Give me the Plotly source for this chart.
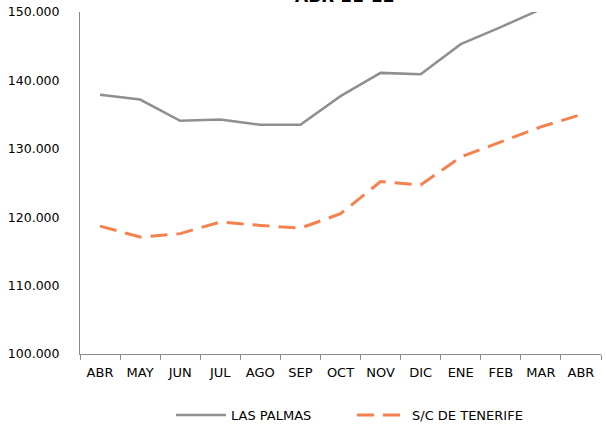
import plotly.graph_objects as go

# monthly values, ABR 2011 -> ABR 2012
months = ["ABR", "MAY", "JUN", "JUL", "AGO", "SEP", "OCT", "NOV", "DIC", "ENE", "FEB", "MAR", "ABR"]
categories = [f"{m}_{i}" for i, m in enumerate(months)]  # unique keys, the two ABR would merge otherwise

las_palmas = [137900, 137200, 134100, 134300, 133500, 133500, 137700, 141100, 140900, 145300, 147800, 150400, 152600]
sc_tenerife = [118700, 117100, 117600, 119300, 118800, 118400, 120500, 125200, 124700, 128800, 131000, 133200, 135000]

y_ticks = [100000, 110000, 120000, 130000, 140000, 150000]

GRAY = "#8f8f8f"
ORANGE = "#f5814f"
AXIS = "#8a8a8a"
FONT = "DejaVu Sans, Verdana, sans-serif"

PLOT_L, PLOT_R = 80, 601

fig = go.Figure()

fig.add_trace(
    go.Scatter(
        x=categories,
        y=las_palmas,
        mode="lines",
        name="LAS PALMAS",
        line=dict(color=GRAY, width=2.5),
    )
)
fig.add_trace(
    go.Scatter(
        x=categories,
        y=sc_tenerife,
        mode="lines",
        name="S/C DE TENERIFE",
        line=dict(color=ORANGE, width=3, dash="17px,9px"),
    )
)

# title is mostly cut off at the top of the image
fig.add_annotation(
    text="<b>ABR 11-12</b>",
    x=(345 - PLOT_L) / (PLOT_R - PLOT_L),
    xref="paper",
    y=1.012,
    yref="paper",
    xanchor="center",
    yanchor="bottom",
    showarrow=False,
    font=dict(size=17, color="#000000", family=FONT),
)

fig.update_layout(
    width=606,
    height=427,
    margin=dict(l=PLOT_L, r=606 - PLOT_R, t=12, b=73),
    paper_bgcolor="white",
    plot_bgcolor="white",
    separators=",.",
    font=dict(family=FONT, size=13, color="#000000"),
    showlegend=True,
    legend=dict(
        orientation="h",
        x=(171 - PLOT_L) / (PLOT_R - PLOT_L),
        xanchor="left",
        yref="container",
        y=(427 - 415) / 427,
        yanchor="middle",
        font=dict(size=13, family=FONT),
        entrywidth=116,
        itemwidth=50,
        bgcolor="rgba(0,0,0,0)",
    ),
)

fig.update_xaxes(
    automargin=False,
    tickmode="array",
    tickvals=categories,
    ticktext=months,
    tickson="boundaries",
    ticks="outside",
    ticklen=5,
    tickcolor=AXIS,
    ticklabelstandoff=6,
    showline=True,
    linecolor=AXIS,
    linewidth=1,
    showgrid=False,
    zeroline=False,
    range=[-0.5, 12.5],
)
fig.update_yaxes(
    automargin=False,
    range=[100000, 150000],
    tickvals=y_ticks,
    tickformat=",.0f",
    tickfont=dict(size=12.5),
    showline=True,
    linecolor=AXIS,
    linewidth=1,
    showgrid=False,
    zeroline=False,
    ticks="",
    ticklabelstandoff=17,
)

# the page's default body margin would push the chart 8px right and down
fig.write_html(
    "out.html",
    config={"displayModeBar": False},
    post_script="document.body.style.margin = '0';",
)
